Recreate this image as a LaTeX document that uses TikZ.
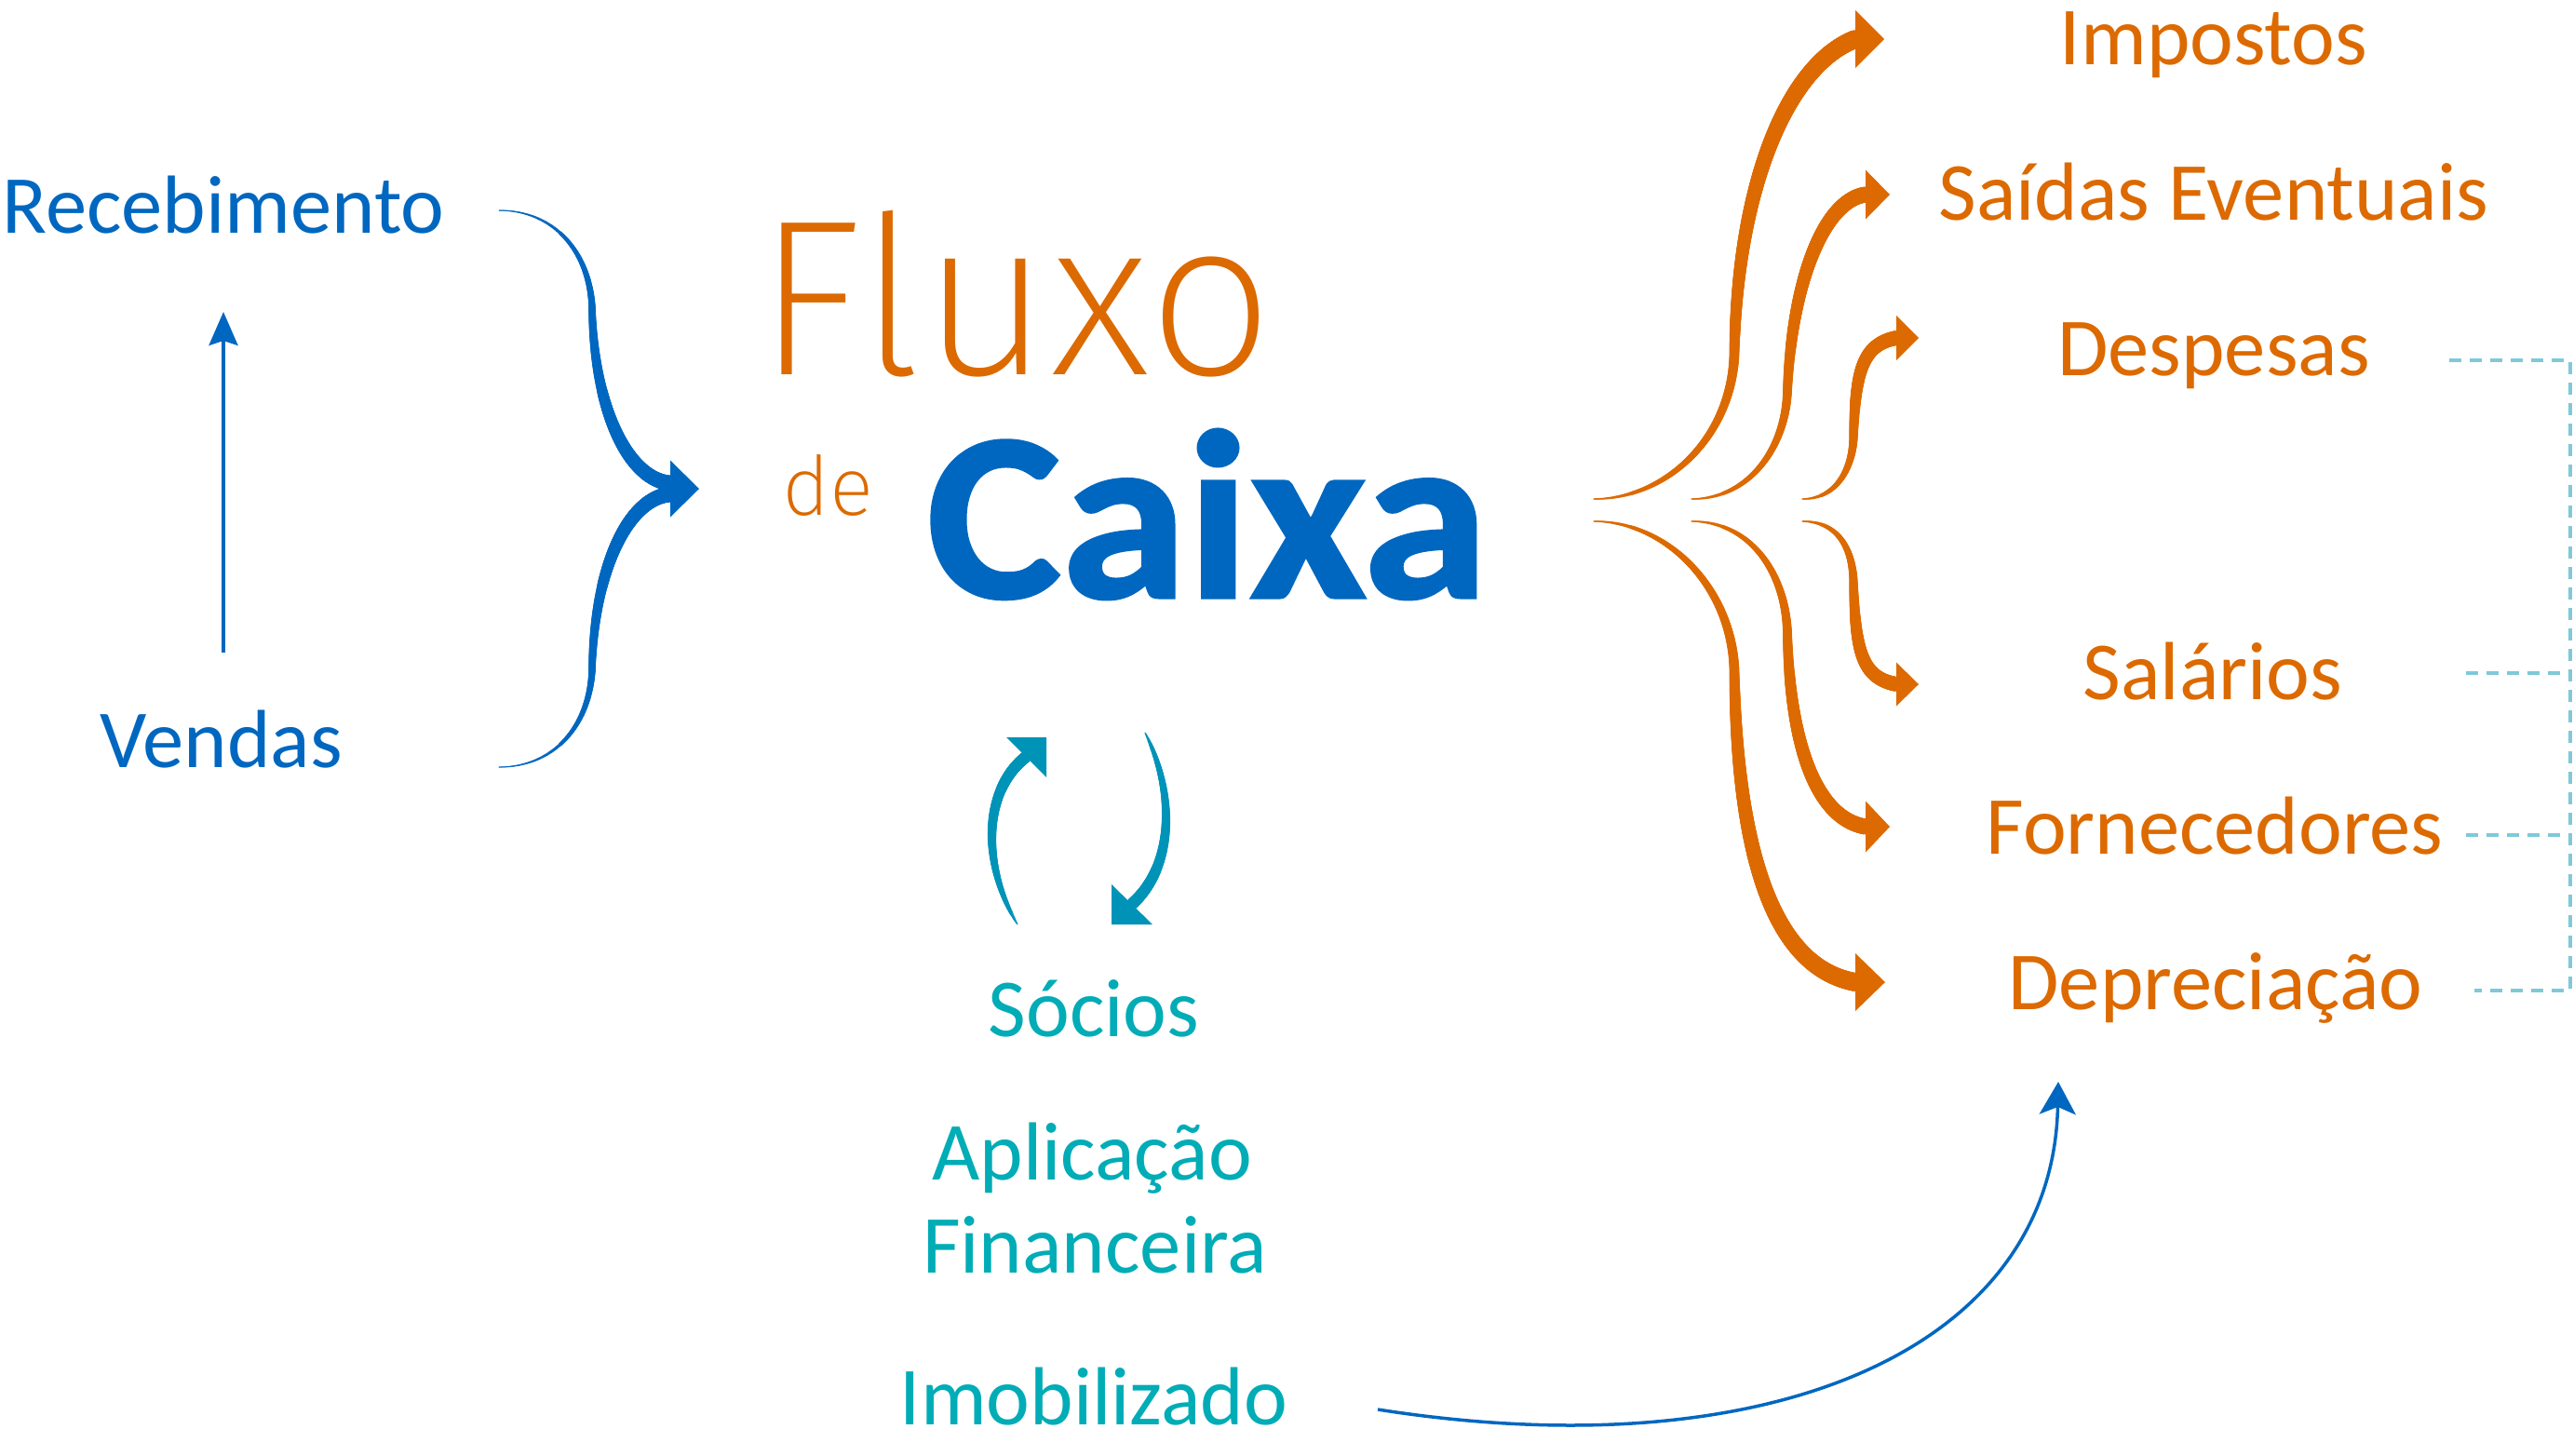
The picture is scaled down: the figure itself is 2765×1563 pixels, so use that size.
\documentclass[tikz,border=0pt]{standalone}
\usepackage{fontspec}
\setmainfont{Carlito}
\newfontfamily\lightfont{Fira Sans ExtraLight}
\newfontfamily\caixafont{Carlito}[UprightFont=* Bold,FakeBold=1.2]
\usetikzlibrary{decorations.markings,arrows.meta}
\definecolor{cblue}{RGB}{0,103,192}
\definecolor{corange}{RGB}{220,106,0}
\definecolor{cteal}{RGB}{0,172,182}
\definecolor{ccycle}{RGB}{0,147,184}
\definecolor{cdash}{RGB}{127,201,217}
\tikzset{
  taper/.style n args={4}{postaction={decorate},
    decoration={markings,
      mark=between positions 0 and 1 step 0.5pt with {%
        \pgfmathsetmacro\tr{#2+(#3-#2)*((\pgfkeysvalueof{/pgf/decoration/mark info/distance from start})/(\pgfdecoratedpathlength)+0.0005)^(#4)}%
        \fill[#1] (0,0) circle[radius=\tr pt];}}},
  lbl/.style={anchor=base,inner sep=0pt,font=\fontsize{44.3}{50}\selectfont},
  olbl/.style={lbl,text=corange},
  tlbl/.style={lbl,text=cteal},
  oshaft/.style={corange,line width=0.6pt},
  dashline/.style={cdash,line width=2pt,dash pattern=on 6.5pt off 4.5pt},
}
\newcommand\rhead[4]{\fill[#4] (#1) ++(0,-#2) -- ++(#3,#2) -- ++(-#3,#2) -- cycle;}
\begin{document}
\begin{tikzpicture}[x=0.5pt,y=-0.5pt]
\useasboundingbox (0,0) rectangle (2765,1563);

% ---------- left side ----------
\node[lbl,text=cblue] (receb) at (240,250) {Recebimento};
\node[lbl,text=cblue] (vendas) at (238,824) {Vendas};
\coordinate (vt) at (240,701);
\coordinate (vh) at (240,335);
\draw[cblue,line width=2pt,-{Stealth[length=18pt,width=15.5pt,inset=2.5pt]}] (vt) -- (vh);

% brace
\coordinate (bT) at (536,226);
\coordinate (bB) at (536,824);
\coordinate (bH1) at (720,519);
\coordinate (bH2) at (720,531);
\coordinate (bH) at (720,525);
\draw[cblue,line width=0.5pt,taper={cblue}{0.25}{4.2}{1.0}] (bT) .. controls (595,226) and (633,270) .. (636,330) .. controls (638,440) and (675,515) .. (bH1);
\draw[cblue,line width=0.5pt,taper={cblue}{0.25}{4.2}{1.0}] (bB) .. controls (595,824) and (633,780) .. (636,720) .. controls (638,610) and (675,535) .. (bH2);
\rhead{bH}{30.5}{31}{cblue}

% ---------- title ----------
\node[anchor=base west,inner sep=0pt,text=corange,font=\lightfont\fontsize{119}{124}\selectfont] (fluxo) at (812,402) {Fluxo};
\node[anchor=base west,inner sep=0pt,text=corange,font=\lightfont\fontsize{44}{50}\selectfont] (de) at (840,553) {de};
\node[anchor=base,inner sep=0pt,text=cblue,font=\caixafont\fontsize{129}{134}\selectfont] (caixa) at (1297,642) {\scalebox{1.06}[1]{Caixa}};

% ---------- cycle arrows ----------
\coordinate (cLt) at (1093,993);
\coordinate (cLh) at (1102,813);
\draw[ccycle,line width=0.4pt,taper={ccycle}{0.2}{3.2}{0.5}] (cLt) .. controls (1055,930) and (1055,850) .. (cLh);
\fill[ccycle] (1124,792) -- (1081,792) -- (1124,835) -- cycle;
\coordinate (cRt) at (1230,787);
\coordinate (cRh) at (1216,971);
\draw[ccycle,line width=0.4pt,taper={ccycle}{0.2}{3.2}{0.5}] (cRt) .. controls (1262,850) and (1262,930) .. (cRh);
\fill[ccycle] (1194,993) -- (1194,950) -- (1238,993) -- cycle;

% ---------- teal labels ----------
\node[tlbl] (socios) at (1175,1113) {Sócios};
\node[tlbl] (aplic) at (1173,1267) {Aplicação};
\node[tlbl] (financ) at (1176,1367) {Financeira};
\node[tlbl] (imob) at (1175,1530) {Imobilizado};

% ---------- right labels ----------
\node[olbl] (imp) at (2378,69) {Impostos};
\node[olbl] (sai) at (2378,236) {Saídas Eventuais};
\node[olbl] (desp) at (2378,403) {Despesas};
\node[olbl] (sal) at (2377,751) {Salários};
\node[olbl] (forn) at (2379,917) {Fornecedores};
\node[olbl] (depr) at (2380,1084) {Depreciação};

% ---------- orange fan ----------
\coordinate (s1) at (1712,536);
\coordinate (h1) at (1993,42);
\draw[oshaft,taper={corange}{0.3}{5}{0.7}] (s1) .. controls (1790,536) and (1860,470) .. (1863,380) .. controls (1866,200) and (1920,70) .. (h1);
\rhead{h1}{31}{31}{corange}

\coordinate (s2) at (1817,536);
\coordinate (h2) at (2004,209);
\draw[oshaft,taper={corange}{0.3}{4.3}{0.7}] (s2) .. controls (1880,536) and (1918,480) .. (1920,420) .. controls (1925,300) and (1960,215) .. (h2);
\rhead{h2}{26.5}{26}{corange}

\coordinate (s3) at (1936,536);
\coordinate (h3) at (2037,363);
\draw[oshaft,taper={corange}{0.3}{4}{0.7}] (s3) .. controls (1975,536) and (1990,500) .. (1991,470) .. controls (1993,400) and (2000,370) .. (h3);
\rhead{h3}{24}{24}{corange}

\coordinate (s4) at (1936,560);
\coordinate (h4) at (2037,735);
\draw[oshaft,taper={corange}{0.3}{4}{0.7}] (s4) .. controls (1975,560) and (1990,590) .. (1991,625) .. controls (1993,700) and (2000,728) .. (h4);
\rhead{h4}{23.5}{24}{corange}

\coordinate (s5) at (1817,560);
\coordinate (h5) at (2004,888);
\draw[oshaft,taper={corange}{0.3}{4.3}{0.7}] (s5) .. controls (1880,560) and (1918,615) .. (1920,680) .. controls (1923,810) and (1955,880) .. (h5);
\rhead{h5}{27.5}{26}{corange}

\coordinate (s6) at (1712,560);
\coordinate (h6) at (1993,1055);
\draw[oshaft,taper={corange}{0.3}{5}{0.7}] (s6) .. controls (1790,560) and (1860,630) .. (1863,720) .. controls (1866,930) and (1910,1040) .. (h6);
\rhead{h6}{31}{32}{corange}

% ---------- Imobilizado -> Depreciacao ----------
\coordinate (imE) at (1480,1514);
\coordinate (dpA) at (2211,1162);
\draw[cblue,line width=1.75pt,-{Stealth[length=17.5pt,width=19.5pt,inset=4pt]}] (imE) .. controls (1900,1580) and (2205,1450) .. (dpA);

% ---------- dashed bracket ----------
\coordinate (d1a) at (2631,387);  \coordinate (d1b) at (2761,387);
\coordinate (d2a) at (2649,723);  \coordinate (d2b) at (2761,723);
\coordinate (d3a) at (2649,897);  \coordinate (d3b) at (2761,897);
\coordinate (d4a) at (2658,1064); \coordinate (d4b) at (2761,1064);
\draw[dashline] (d1a) -- (d1b) -- (d4b) -- (d4a);
\draw[dashline] (d2a) -- (d2b);
\draw[dashline] (d3a) -- (d3b);
\end{tikzpicture}
\end{document}
